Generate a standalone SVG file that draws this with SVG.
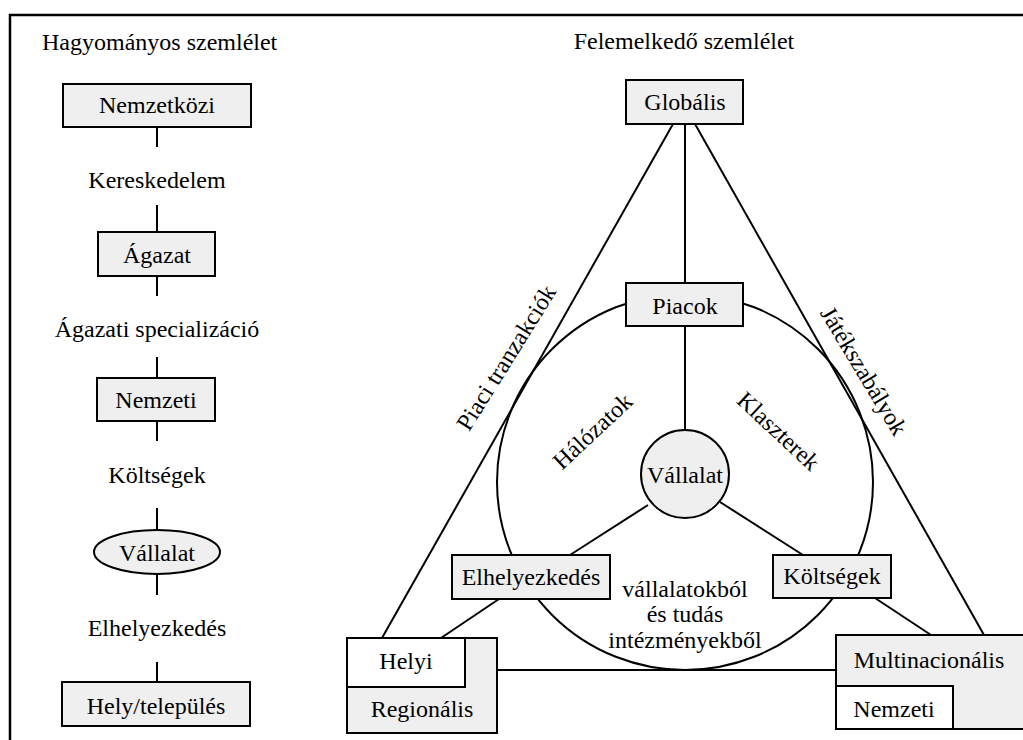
<svg xmlns="http://www.w3.org/2000/svg" width="1023" height="740" viewBox="0 0 1023 740">
  <style>
    .box{fill:#efefef;stroke:#000;stroke-width:2}
    .wbox{fill:#fff;stroke:#000;stroke-width:2}
    .ln{stroke:#000;stroke-width:2;fill:none}
    text{font-family:"Liberation Serif","Times New Roman","DejaVu Serif",serif;font-size:24px;fill:#000}
    .c{text-anchor:middle}
  </style>
  <rect width="1023" height="740" fill="#fff"/>
  <!-- outer frame (top and left edges) -->
  <path d="M10,740 V15 H1023" fill="none" stroke="#000" stroke-width="2.5"/>

  <!-- headings -->
  <text x="42" y="50">Hagyományos szemlélet</text>
  <text class="c" x="684" y="49">Felemelkedő szemlélet</text>

  <!-- connectors -->
  <g id="connectors" class="ln">
    <!-- traditional column -->
    <line x1="157" y1="127" x2="157" y2="147"/>
    <line x1="157" y1="205" x2="157" y2="232"/>
    <line x1="157" y1="276" x2="157" y2="296"/>
    <line x1="157" y1="357" x2="157" y2="378"/>
    <line x1="157" y1="421" x2="157" y2="441"/>
    <line x1="157" y1="508" x2="157" y2="530"/>
    <line x1="157" y1="574" x2="157" y2="595"/>
    <line x1="157" y1="662" x2="157" y2="682"/>
    <!-- emerging view -->
    <circle cx="685" cy="482" r="188"/>
    <line x1="685" y1="124" x2="685" y2="283"/>
    <line x1="685" y1="326" x2="685" y2="430"/>
    <line x1="673" y1="124" x2="382" y2="638"/>
    <line x1="695" y1="124" x2="984" y2="635"/>
    <line x1="648" y1="505" x2="570" y2="555"/>
    <line x1="720" y1="502" x2="803" y2="555"/>
    <line x1="499" y1="599" x2="441" y2="638"/>
    <line x1="875" y1="598" x2="931" y2="635"/>
    <line x1="497" y1="670" x2="836" y2="670"/>
  </g>

  <!-- traditional view nodes -->
  <g id="t-nemzetkozi">
    <rect class="box" x="63" y="84" width="188" height="43"/>
    <text class="c" x="157" y="113">Nemzetközi</text>
  </g>
  <g id="t-kereskedelem"><text class="c" x="157" y="188">Kereskedelem</text></g>
  <g id="t-agazat">
    <rect class="box" x="98" y="232" width="117" height="44"/>
    <text class="c" x="157" y="263">Ágazat</text>
  </g>
  <g id="t-specializacio"><text class="c" x="157" y="337">Ágazati specializáció</text></g>
  <g id="t-nemzeti">
    <rect class="box" x="97" y="378" width="118" height="43"/>
    <text class="c" x="156" y="408">Nemzeti</text>
  </g>
  <g id="t-koltsegek"><text class="c" x="157" y="483">Költségek</text></g>
  <g id="t-vallalat">
    <ellipse class="box" cx="157" cy="552" rx="63" ry="22"/>
    <text class="c" x="157" y="561">Vállalat</text>
  </g>
  <g id="t-elhelyezkedes"><text class="c" x="157" y="636">Elhelyezkedés</text></g>
  <g id="t-hely">
    <rect class="box" x="62" y="682" width="188" height="44"/>
    <text class="c" x="156" y="714">Hely/település</text>
  </g>

  <!-- emerging view nodes -->
  <g id="e-globalis">
    <rect class="box" x="626" y="80" width="117" height="44"/>
    <text class="c" x="685" y="110">Globális</text>
  </g>
  <g id="e-piacok">
    <rect class="box" x="626" y="283" width="117" height="43"/>
    <text class="c" x="685" y="314">Piacok</text>
  </g>
  <g id="e-vallalat">
    <circle class="box" cx="685" cy="474" r="44"/>
    <text class="c" x="685" y="483">Vállalat</text>
  </g>
  <g id="e-elhelyezkedes">
    <rect class="box" x="452" y="555" width="158" height="44"/>
    <text class="c" x="531" y="585">Elhelyezkedés</text>
  </g>
  <g id="e-koltsegek">
    <rect class="box" x="773" y="555" width="118" height="43"/>
    <text class="c" x="832" y="584">Költségek</text>
  </g>
  <g id="e-helyi-regionalis">
    <rect class="box" x="347" y="638" width="150" height="95"/>
    <rect class="wbox" x="347" y="638" width="118" height="49"/>
    <text class="c" x="406" y="669">Helyi</text>
    <text class="c" x="422" y="717">Regionális</text>
  </g>
  <g id="e-multi-nemzeti">
    <rect class="box" x="836" y="635" width="192" height="94"/>
    <rect class="wbox" x="836" y="686" width="117" height="43"/>
    <text class="c" x="929" y="668">Multinacionális</text>
    <text class="c" x="894" y="717">Nemzeti</text>
  </g>

  <!-- edge and area labels -->
  <g id="labels">
    <text class="c" transform="translate(513,362) rotate(-58)">Piaci tranzakciók</text>
    <text class="c" transform="translate(857,375) rotate(59)">Játékszabályok</text>
    <text class="c" transform="translate(598,437) rotate(-43)">Hálózatok</text>
    <text class="c" transform="translate(773,437) rotate(43)">Klaszterek</text>
    <text class="c" x="685" y="597">vállalatokból</text>
    <text class="c" x="685" y="622">és tudás</text>
    <text class="c" x="685" y="648">intézményekből</text>
  </g>
</svg>
